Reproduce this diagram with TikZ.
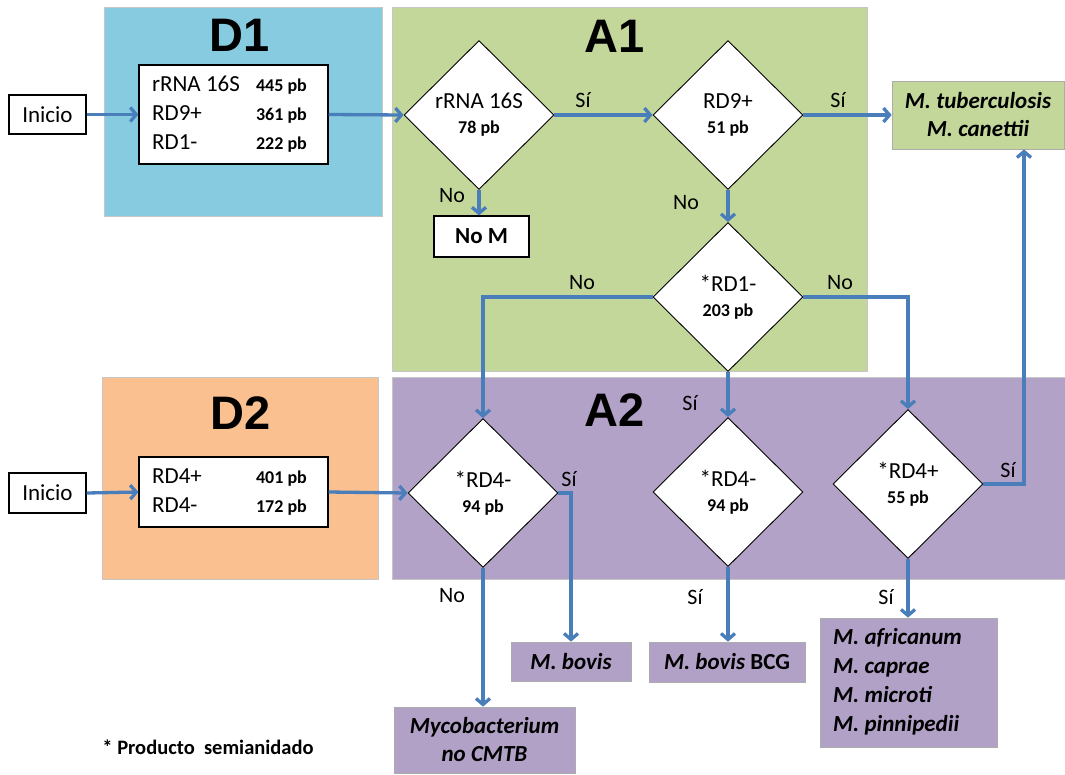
\documentclass[tikz,border=0pt]{standalone}
\usepackage{fontspec}
\setmainfont{Carlito}
\newfontfamily\titlefont{Liberation Sans}
\usetikzlibrary{shapes.geometric,arrows.meta}
\definecolor{regblue}{RGB}{134,203,223}
\definecolor{reggreen}{RGB}{196,215,155}
\definecolor{regorange}{RGB}{250,192,144}
\definecolor{regpurple}{RGB}{179,162,199}
\definecolor{respurple}{RGB}{178,161,199}
\definecolor{flowblue}{RGB}{74,126,187}
\tikzset{
  region/.style={draw=gray!45, line width=0.6pt, inner sep=0pt},
  ttl/.style={font=\titlefont\bfseries\fontsize{47}{47}\selectfont, inner sep=0pt},
  plainbox/.style={draw=black, line width=1.1pt, fill=white, inner sep=0pt, font=\fontsize{23}{29}\selectfont},
  dia/.style={diamond, draw=black, line width=0.9pt, fill=white, minimum width=150pt, minimum height=149pt, inner sep=0pt, align=center, font=\fontsize{23}{25}\selectfont},
  res/.style={draw=gray!65, line width=0.7pt, fill=respurple, inner sep=0pt, align=center, font=\frenchspacing\fontsize{23}{28}\selectfont\bfseries\itshape},
  lab/.style={inner sep=0pt, font=\fontsize{22}{24}\selectfont},
  flow/.style={draw=flowblue, line width=3.3pt, -{Straight Barb[length=6pt,width=14pt]}}
}
\newcommand{\pbt}[1]{{\fontsize{18}{20}\selectfont\bfseries #1}}
\begin{document}
\begin{tikzpicture}[x=1pt,y=-1pt]
\useasboundingbox (0,0) rectangle (1065,774);
% regions
\node[region, fill=regblue, minimum width=278pt, minimum height=209pt] (rD1) at (243,111.5) {};
\node[region, fill=reggreen, minimum width=475pt, minimum height=364pt] (rA1) at (629.5,189) {};
\node[region, fill=regorange, minimum width=276pt, minimum height=202pt] (rD2) at (240,478) {};
\node[region, fill=regpurple, minimum width=673pt, minimum height=202pt] (rA2) at (728.5,478) {};
% titles
\node[ttl] (tD1) at (240,35) {D1};
\node[ttl] (tA1) at (615,36) {A1};
\node[ttl] (tD2) at (241,413) {D2};
\node[ttl] (tA2) at (615,410) {A2};
% start boxes
\node[plainbox, minimum width=77pt, minimum height=39pt] (in1) at (47.5,114.5) {Inicio};
\node[plainbox, minimum width=77pt, minimum height=40pt] (in2) at (47.5,493) {Inicio};
\node[plainbox, minimum width=189pt, minimum height=99pt] (d1in) at (233.5,114.5)
  {\begin{tabular}{@{}p{104pt}@{}r@{}}rRNA 16S & \pbt{445 pb}\\ RD9+ & \pbt{361 pb}\\ RD1- & \pbt{222 pb}\end{tabular}\hspace*{8pt}};
\node[plainbox, minimum width=189pt, minimum height=70pt] (d2in) at (233.5,492)
  {\begin{tabular}{@{}p{104pt}@{}r@{}}RD4+ & \pbt{401 pb}\\ RD4- & \pbt{172 pb}\end{tabular}\hspace*{8pt}};
% diamonds
\node[dia] (d1) at (479,115) {rRNA 16S\\\pbt{78 pb}};
\node[dia] (d2) at (728,115) {RD9+\\\pbt{51 pb}};
\node[dia] (d3) at (728,297) {*RD1-\\\pbt{203 pb}};
\node[dia] (d4) at (483,493) {*RD4-\\\pbt{94 pb}};
\node[dia] (d5) at (728,492) {*RD4-\\\pbt{94 pb}};
\node[dia] (d6) at (908,484) {*RD4+\\\pbt{55 pb}};
% results
\node[plainbox, font=\fontsize{23}{28}\selectfont\bfseries, minimum width=95pt, minimum height=41pt] (nom) at (481.5,236.5) {No M};
\node[res, fill=reggreen, minimum width=172pt, minimum height=68pt] (tb) at (978,115) {M. tuberculosis\\M. canettii};
\node[res, minimum width=120pt, minimum height=39pt] (bovis) at (571,661.5) {M. bovis};
\node[res, minimum width=156pt, minimum height=40pt] (bcg) at (727,662) {M. bovis \textup{BCG}};
\node[res, minimum width=177pt, minimum height=129pt, font=\frenchspacing\fontsize{23}{29}\selectfont\bfseries\itshape] (afr) at (908.5,682.5)
  {\begin{tabular}{@{}l@{}}M. africanum\\M. caprae\\M. microti\\M. pinnipedii\end{tabular}\hspace*{22pt}};
\node[res, minimum width=181pt, minimum height=66pt] (myco) at (484.5,740) {Mycobacterium\\no CMTB};
% connectors
\draw[flow] (in1.east) -- (d1in.west);
\draw[flow] (d1in.east) -- (d1.west);
\draw[flow] (d1.east) -- (d2.west);
\draw[flow] (d2.east) -- (tb.west);
\draw[flow] (d1.south) -- (d1.south |- nom.north);
\draw[flow] (d2.south) -- (d3.north);
\draw[flow] (d3.west) -| (d4.north);
\draw[flow] (d3.east) -| (d6.north);
\draw[flow] (d3.south) -- (d5.north);
\draw[flow] (in2.east) -- (d2in.west);
\draw[flow] (d2in.east) -- (d4.west);
\draw[flow] (d4.east) -| (bovis.north);
\draw[flow] (d4.south) -- (d4.south |- myco.north);
\draw[flow] (d5.south) -- (d5.south |- bcg.north);
\draw[flow] (d6.south) -- (d6.south |- afr.north);
\coordinate (c6) at (1024,484);
\draw[flow] (d6.east) -- (c6) -- (c6 |- tb.south);
% labels
\node[lab] (l1) at (583,100) {Sí};
\node[lab] (l2) at (838,100) {Sí};
\node[lab] (l3) at (452,196) {No};
\node[lab] (l4) at (686,203) {No};
\node[lab] (l5) at (582,283) {No};
\node[lab] (l6) at (840,283) {No};
\node[lab] (l7) at (690,403) {Sí};
\node[lab] (l8) at (569,479) {Sí};
\node[lab] (l9) at (452,596) {No};
\node[lab] (l10) at (695,597) {Sí};
\node[lab] (l11) at (886,597) {Sí};
\node[lab] (l12) at (1008,470) {Sí};
% footnote
\node[inner sep=0pt, font=\fontsize{20.5}{23}\selectfont\bfseries] (fn) at (208,747) {* Producto\ \ semianidado};
\end{tikzpicture}
\end{document}
